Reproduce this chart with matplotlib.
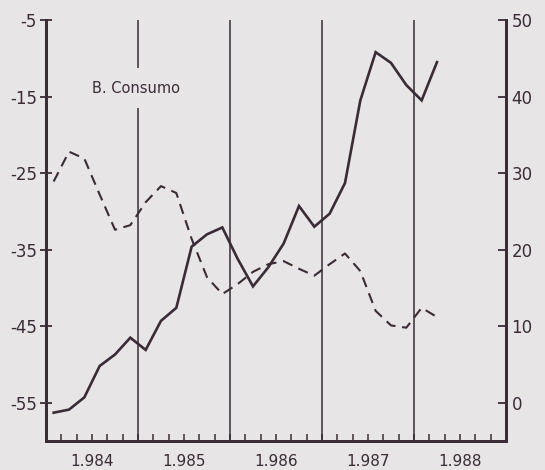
import numpy as np
import matplotlib
matplotlib.use("Agg")
import matplotlib.pyplot as plt

# bimonthly observations, Feb 1984 .. Apr 1988 (k -> 1984 + (2k+1)/12)
periods = 1984 + (2 * np.arange(26) + 1) / 12.0

# solid series (left axis)
consumo = [-56.3, -55.9, -54.3, -50.2, -48.7, -46.5, -48.1, -44.3, -42.6,
           -34.6, -33.0, -32.1, -36.2, -39.8, -37.3, -34.2, -29.3, -32.0,
           -30.3, -26.3, -15.5, -9.2, -10.6, -13.5, -15.5, -10.5]

# dashed series (right axis)
dashed = [28.9, 32.8, 31.9, 27.2, 22.6, 23.2, 26.2, 28.3, 27.4, 21.4, 16.4,
          14.2, 15.5, 17.1, 18.1, 18.5, 17.5, 16.6, 18.1, 19.5, 17.2, 12.0,
          10.1, 9.8, 12.4, 11.2]

years = [1984, 1985, 1986, 1987, 1988]
year_labels = ["1.984", "1.985", "1.986", "1.987", "1.988"]
left_ticks = [-55, -45, -35, -25, -15, -5]
right_ticks = [0, 10, 20, 30, 40, 50]

bg = "#e7e5e6"
ink = "#3a2b36"

fig = plt.figure(figsize=(5.45, 4.70), dpi=100, facecolor=bg)
ax = fig.add_axes([0.0844, 0.0617, 0.844, 0.8957])
ax.set_facecolor(bg)
ax2 = ax.twinx()

ax.plot(periods, consumo, color=ink, linewidth=1.9, solid_joinstyle="miter")
ax2.plot(periods, dashed, color=ink, linewidth=1.5, linestyle=(0, (5, 3.2)))

for y in years[1:]:
    ax.axvline(y, color=ink, linewidth=1.1, zorder=1)

ax.set_xlim(1984, 1989)
ax.set_ylim(-60, -5)
ax2.set_ylim(-5, 50)

# bimonthly ticks along the bottom, year labels centred in each year
ax.xaxis.remove_overlapping_locs = False
ax.set_xticks(np.arange(1984, 1989.01, 1 / 6.0))
ax.set_xticklabels([])
ax.set_xticks([y + 0.5 for y in years], minor=True)
ax.set_xticklabels(year_labels, minor=True)
ax.tick_params(axis="x", which="major", direction="in", length=5,
               width=1.1, color=ink)
ax.tick_params(axis="x", which="minor", length=0, pad=9, labelsize=11,
               labelcolor=ink)

ax.set_yticks(left_ticks)
ax.set_yticklabels([str(v) for v in left_ticks])
ax.tick_params(axis="y", direction="inout", length=9, width=1.3, color=ink,
               labelsize=12, labelcolor=ink, pad=2)

ax2.set_yticks(right_ticks)
ax2.tick_params(axis="y", direction="in", length=6, width=1.3, color=ink,
                labelsize=12, labelcolor=ink, pad=4)

for a in (ax, ax2):
    a.spines["top"].set_visible(False)
    for side in ("left", "right", "bottom"):
        a.spines[side].set_color(ink)
        a.spines[side].set_linewidth(2.0)

ax.text(1984.5, -13.9, "B. Consumo", fontsize=10.5, color=ink,
        va="center", ha="left", zorder=5,
        bbox=dict(facecolor=bg, edgecolor="none", pad=9))

fig.savefig("out.png", dpi=100, facecolor=bg)
